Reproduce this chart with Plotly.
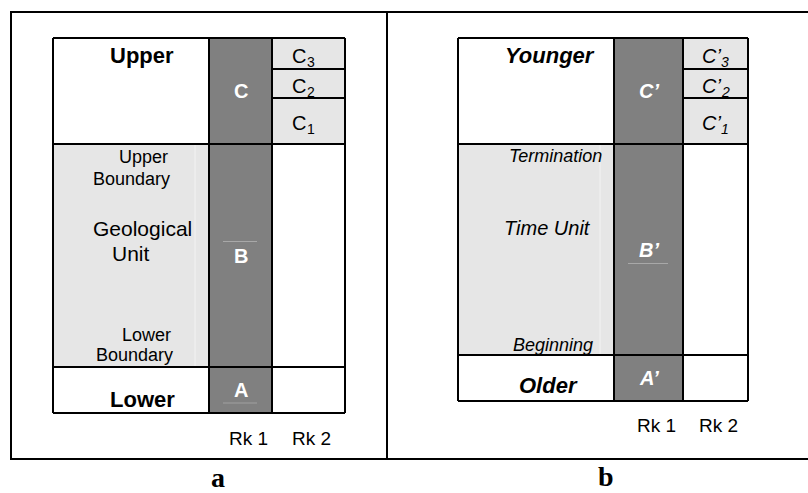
import plotly.graph_objects as go

# ---------------- DATA ----------------
ranks = ["Rk 1", "Rk 2"]
panel_letters = ["a", "b"]

# panel a : lithostratigraphy
units_a = ["A", "B", "C"]                 # rank-1 units, bottom to top
thick_a = [46, 223, 106]                  # relative thickness
sub_base_a = "C"                          # rank-2 units of C: C1, C2, C3
sub_index_a = ["1", "2", "3"]
sub_thick_a = [46, 29, 31]
top_label_a = "Upper"
bottom_label_a = "Lower"
mid_labels_a = ["Upper", "Boundary", "Geological", "Unit", "Lower", "Boundary"]

# panel b : chronostratigraphy
units_b = ["A’", "B’", "C’"]
thick_b = [46, 211, 106]
sub_base_b = "C’"
sub_index_b = ["1", "2", "3"]
sub_thick_b = [46, 29, 31]
top_label_b = "Younger"
bottom_label_b = "Older"
mid_labels_b = ["Termination", "Time Unit", "Beginning"]

# ---------------- STYLE / LAYOUT ----------------
W, H = 808, 493
DARK = "#808080"
LIGHT = "#e6e6e6"
SANS = "Liberation Sans, Arial, sans-serif"
SERIF = "Liberation Serif, Times New Roman, serif"

shapes = []
annotations = []


def cum(vals):
    out = [0]
    for v in vals:
        out.append(out[-1] + v)
    return out


def rect(xr, yr, x0, x1, y0, y1, fill):
    shapes.append(dict(type="rect", xref=xr, yref=yr, x0=x0, x1=x1, y0=y0, y1=y1,
                       fillcolor=fill, line=dict(width=0), layer="below"))


def line(xr, yr, x0, x1, y0, y1, w=2, c="black", layer="above"):
    shapes.append(dict(type="line", xref=xr, yref=yr, x0=x0, x1=x1, y0=y0, y1=y1,
                       line=dict(width=w, color=c), layer=layer))


def text(xr, yr, x, y, t, size, color="black", xanchor="center", family=SANS,
         bold=False, italic=False, pad=1):
    annotations.append(dict(xref=xr, yref=yr, x=x, y=y, text=t, showarrow=False,
                            xanchor=xanchor, yanchor="middle", borderpad=pad,
                            font=dict(size=size, color=color, family=family,
                                      weight="bold" if bold else "normal",
                                      style="italic" if italic else "normal")))


def panel(xr, yr, thick, sub_thick, units, sub_base, sub_idx, widths, italic, sub_x):
    b = cum(thick)
    sb = cum(sub_thick)
    c0 = 0
    c1 = widths[0]
    c2 = c1 + widths[1]
    c3 = c2 + widths[2]
    top = b[-1]
    # fills
    rect(xr, yr, c0, c1, b[1], b[2], LIGHT)
    line(xr, yr, c1 - 14, c1 - 14, b[1] + 1, b[2] - 1, 1, "#f3f3f3", "below")
    rect(xr, yr, c1, c2, 0, top, DARK)
    rect(xr, yr, c2, c3, b[2], top, LIGHT)
    # grid lines
    for x in (c0, c1, c2, c3):
        line(xr, yr, x, x, 0, top)
    for y in (0, b[1], b[2], top):
        line(xr, yr, c0, c3, y, y)
    for k in range(1, len(sb) - 1):
        line(xr, yr, c2, c3, b[2] + sb[k], b[2] + sb[k])
    # rank-1 unit labels
    mid_r1 = (c1 + c2) / 2
    for i, u in enumerate(units):
        yc = (b[i] + b[i + 1]) / 2
        text(xr, yr, mid_r1, yc, u, 20, "white", bold=True, italic=italic)
    # rank-2 labels: base letter + subscript index
    mid_r2 = (c2 + c3) / 2
    for k, s in enumerate(sub_idx):
        yc = b[2] + (sb[k] + sb[k + 1]) / 2
        text(xr, yr, mid_r2 + sub_x, yc - 2, sub_base, 20, xanchor="right", italic=italic, pad=0)
        text(xr, yr, mid_r2 + sub_x - 1.5, yc - 8, s, 14, xanchor="left", italic=italic, pad=0)
    # rank names under the table
    text(xr, yr, mid_r1 + 8, -25 if not italic else -24, ranks[0], 19)
    text(xr, yr, mid_r2 + 3, -25 if not italic else -24, ranks[1], 19)
    return b, (c0, c1, c2, c3)


# ---------- panel a : axes x/y, origin at table bottom-left ----------
ba, ca = panel("x", "y", thick_a, sub_thick_a, units_a, sub_base_a, sub_index_a,
               [156, 63, 73], False, -1.5)
top_a = ba[-1]
text("x", "y", 123, top_a - 17, top_label_a, 22, xanchor="right", bold=True)
text("x", "y", 124, 14, bottom_label_a, 22, xanchor="right", bold=True)
text("x", "y", 117, ba[2] - 13, mid_labels_a[0], 18, xanchor="right")
text("x", "y", 119, ba[2] - 35, mid_labels_a[1], 18, xanchor="right")
text("x", "y", 89, ba[2] - 84, mid_labels_a[2], 21)
text("x", "y", 78, ba[2] - 109, mid_labels_a[3], 21)
text("x", "y", 120, ba[1] + 32, mid_labels_a[4], 18, xanchor="right")
text("x", "y", 122, ba[1] + 12, mid_labels_a[5], 18, xanchor="right")
# faint marks in the rank-1 column
line("x", "y", 170, 204, ba[1] + thick_a[1] / 2 + 14, ba[1] + thick_a[1] / 2 + 14, 1, "#a8a8a8")
line("x", "y", 170, 204, 10, 10, 1, "#a0a0a0")

# ---------- panel b : axes x2/y2 ----------
bb, cb = panel("x2", "y2", thick_b, sub_thick_b, units_b, sub_base_b, sub_index_b,
               [156, 69, 65], True, 6)
top_b = bb[-1]
text("x2", "y2", 139, top_b - 17, top_label_b, 22, xanchor="right", bold=True, italic=True)
text("x2", "y2", 122, 16, bottom_label_b, 22, xanchor="right", bold=True, italic=True)
text("x2", "y2", 146, bb[2] - 12, mid_labels_b[0], 18, xanchor="right", italic=True)
text("x2", "y2", 135, bb[2] - 84, mid_labels_b[1], 20, xanchor="right", italic=True)
text("x2", "y2", 137, bb[1] + 10, mid_labels_b[2], 18, xanchor="right", italic=True)
line("x2", "y2", 170, 210, bb[1] + thick_b[1] / 2 - 14, bb[1] + thick_b[1] / 2 - 14, 1, "#a8a8a8")


# ---------- outer frame (paper) ----------
def px(x):
    return x / W


def py(y):
    return 1 - y / H


for (x0, y0, x1, y1) in [(11, 12, W + 2, 12), (11, 459, W + 2, 459), (11, 11, 11, 460), (387, 12, 387, 459)]:
    shapes.append(dict(type="line", xref="paper", yref="paper", x0=px(x0), y0=py(y0),
                       x1=px(x1), y1=py(y1), line=dict(width=2, color="black")))

annotations.append(dict(xref="paper", yref="paper", x=px(210), y=py(477), text=panel_letters[0],
                        showarrow=False, yanchor="middle", borderpad=0,
                        font=dict(size=28, family=SERIF, color="black", weight="bold")))
annotations.append(dict(xref="paper", yref="paper", x=px(615), y=py(476), text=panel_letters[1],
                        showarrow=False, yanchor="middle", borderpad=0,
                        font=dict(size=28, family=SERIF, color="black", weight="bold")))

fig = go.Figure()
fig.add_trace(go.Scatter(x=[0], y=[0], xaxis="x", yaxis="y", mode="markers",
                         marker=dict(opacity=0), hoverinfo="skip", showlegend=False))
fig.add_trace(go.Scatter(x=[0], y=[0], xaxis="x2", yaxis="y2", mode="markers",
                         marker=dict(opacity=0), hoverinfo="skip", showlegend=False))

ax = dict(visible=False, showgrid=False, zeroline=False, fixedrange=True)
fig.update_layout(
    width=W, height=H,
    margin=dict(l=0, r=0, t=0, b=0),
    paper_bgcolor="white", plot_bgcolor="white",
    xaxis=dict(domain=[0, 1], range=[-53, W - 53], **ax),
    yaxis=dict(domain=[0, 1], range=[413 - H, 413], **ax),
    xaxis2=dict(domain=[0, 1], range=[-458, W - 458], anchor="y2", overlaying="x", **ax),
    yaxis2=dict(domain=[0, 1], range=[401 - H, 401], anchor="x2", overlaying="y", **ax),
    shapes=shapes,
    annotations=annotations,
    showlegend=False,
)

fig.write_html("out.html", config={"displayModeBar": False},
               post_script="document.body.style.margin='0px';document.body.style.overflow='hidden';")
